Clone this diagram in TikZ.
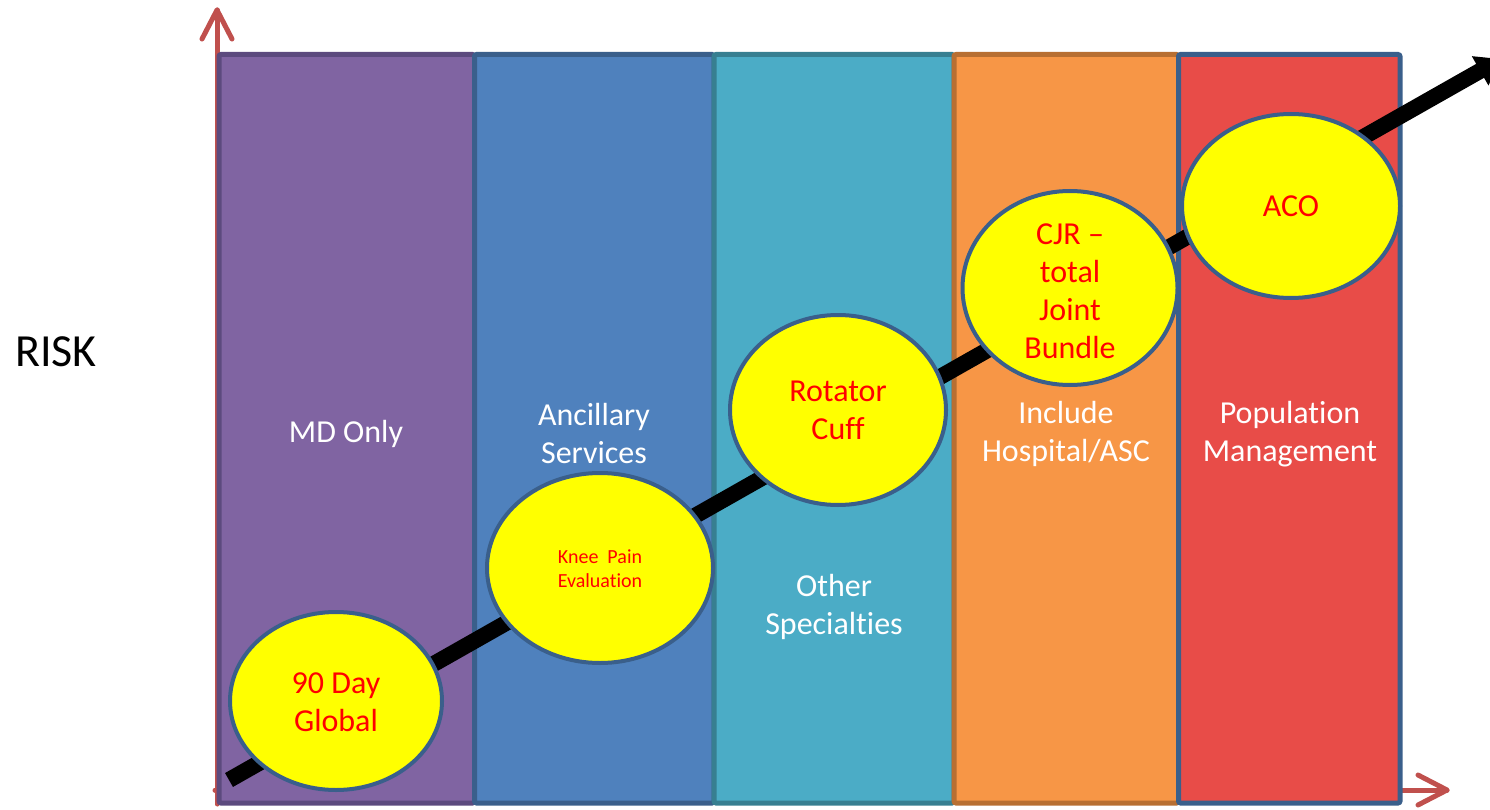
\documentclass[tikz,border=0pt]{standalone}
\usepackage{fontspec}
\setmainfont{Carlito}[Ligatures=CommonOff]
\usetikzlibrary{arrows.meta,shapes.geometric}
\definecolor{purpfill}{HTML}{8064A2}
\definecolor{purpbd}{HTML}{5C4A7E}
\definecolor{bluefill}{HTML}{4F81BD}
\definecolor{bluebd}{HTML}{3A5F8B}
\definecolor{tealfill}{HTML}{4BACC6}
\definecolor{tealbd}{HTML}{377F91}
\definecolor{orfill}{HTML}{F79646}
\definecolor{orbd}{HTML}{B86F32}
\definecolor{redfill}{HTML}{E84C48}
\definecolor{axisred}{HTML}{C0504D}
\definecolor{ovalbd}{HTML}{3A5F8B}
\definecolor{ovalfill}{HTML}{FFFF00}
\definecolor{ovaltext}{HTML}{FF0000}
\tikzset{
  colbox/.style={line width=5pt, rounded corners=2pt},
  axisline/.style={draw=axisred, line width=5pt, line cap=round, line join=round},
  oval/.style={ellipse, draw=ovalbd, line width=4pt, fill=ovalfill, inner sep=0pt},
  colltext/.style={text=white, align=center, font=\fontsize{32}{38}\selectfont},
  ovaltxt/.style={text=ovaltext, align=center, font=\fontsize{32}{38}\selectfont},
  smalltxt/.style={text=ovaltext, align=center, font=\fontsize{20}{24}\selectfont},
  riskarrow/.style={line width=16pt, draw=black, -{Triangle[length=24pt,width=32pt]}}
}
\begin{document}
\begin{tikzpicture}[x=1pt,y=-1pt]
\useasboundingbox (0,0) rectangle (1490,810);
\clip (0,0) rectangle (1490,810);
% axes
\coordinate (yo) at (217,804);
\coordinate (yt) at (217,10);
\coordinate (xo) at (215,790);
\coordinate (xt) at (1447,790);
\draw[axisline] (yo) -- (yt);
\draw[axisline] ([xshift=-15pt,yshift=-29pt]yt) -- (yt) -- ([xshift=15pt,yshift=-29pt]yt);
\draw[axisline] (xo) -- (xt);
\draw[axisline] ([xshift=-29pt,yshift=-15pt]xt) -- (xt) -- ([xshift=-29pt,yshift=15pt]xt);
% columns
\draw[colbox, draw=purpbd, fill=purpfill] (219,54.5) rectangle (474.5,803);
\draw[colbox, draw=bluebd, fill=bluefill] (474.5,54.5) rectangle (714,803);
\draw[colbox, draw=tealbd, fill=tealfill] (714,54.5) rectangle (954,803);
\draw[colbox, draw=orbd, fill=orfill] (954,54.5) rectangle (1178.5,803);
\draw[colbox, draw=bluebd, fill=redfill] (1178.5,54.5) rectangle (1400,803);
% column texts
\node[colltext] (c1) at (346,434) {MD Only};
\node[colltext] (c2) at (594,434) {Ancillary\\Services};
\node[colltext] (c3) at (834,607) {Other\\Specialties};
\node[colltext] (c4) at (1066,434) {Include\\Hospital/ASC};
\node[colltext] (c5) at (1290,434) {Population\\Management};
% risk label
\node[font=\fontsize{46}{50}\selectfont] (risk) at (56,352) {RISK};
% black arrow
\coordinate (bs) at (229,780);
\coordinate (be) at (1501,59);
\draw[riskarrow] (bs) -- (be);
% ovals
\node[oval, minimum width=212pt, minimum height=178pt] (o1) at (336,701) {};
\node[oval, minimum width=226pt, minimum height=190pt] (o2) at (600,568) {};
\node[oval, minimum width=216pt, minimum height=190pt] (o3) at (838,410) {};
\node[oval, minimum width=215pt, minimum height=194pt] (o4) at (1070,288) {};
\node[oval, minimum width=218pt, minimum height=184pt] (o5) at (1291,206) {};
\node[ovaltxt] (t1) at ([yshift=-1pt]o1.center) {90 Day\\Global};
\node[smalltxt] (t2) at ([yshift=-1pt]o2.center) {Knee\ \ Pain\\Evaluation};
\node[ovaltxt] (t3) at (o3.center) {Rotator\\Cuff};
\node[ovaltxt] (t4) at ([yshift=-3pt]o4.center) {CJR –\\total\\Joint\\Bundle};
\node[ovaltxt] (t5) at (o5.center) {ACO};
\end{tikzpicture}
\end{document}
